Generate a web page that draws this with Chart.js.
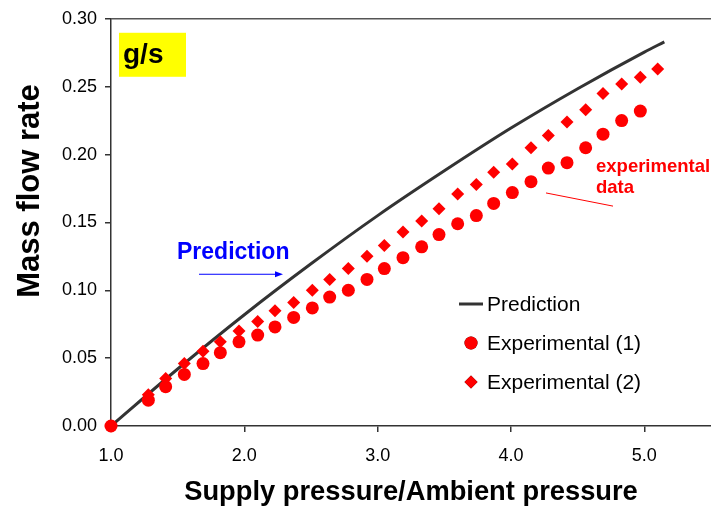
<!DOCTYPE html>
<html>
<head>
<meta charset="utf-8">
<title>Mass flow rate</title>
<script src="https://cdn.jsdelivr.net/npm/chart.js@4.4.1/dist/chart.umd.min.js"></script>
<style>
  body { margin: 0; background: #fff; }
  #wrap { width: 711px; height: 510px; }
</style>
</head>
<body>
<div id="wrap"><canvas id="flow-chart" width="711" height="510"></canvas></div>
<script>
// model curve
const predictionRatio = [1.0, 1.5, 2.0, 2.5, 3.0, 3.5, 4.0, 4.5, 5.0, 5.15];
const predictionFlow = [0, 0.042, 0.082, 0.1195, 0.155, 0.188, 0.2195, 0.2485, 0.2755, 0.283];

// measured runs (pressure ratio / g/s)
const exp1Ratio = [1.0, 1.28, 1.41, 1.55, 1.69, 1.82, 1.96, 2.10, 2.23, 2.37, 2.51, 2.64, 2.78, 2.92, 3.05,
    3.19, 3.33, 3.46, 3.60, 3.74, 3.87, 4.01, 4.15, 4.28, 4.42, 4.56, 4.69, 4.83, 4.97];
const exp1Flow = [0, 0.019, 0.029, 0.038, 0.046, 0.054, 0.062, 0.067, 0.073, 0.080, 0.087, 0.095, 0.100, 0.108, 0.116,
    0.124, 0.132, 0.141, 0.149, 0.155, 0.164, 0.172, 0.180, 0.190, 0.194, 0.205, 0.215, 0.225, 0.232];

const exp2Ratio = [1.0, 1.28, 1.41, 1.55, 1.69, 1.82, 1.96, 2.10, 2.23, 2.37, 2.51, 2.64, 2.78, 2.92, 3.05,
    3.19, 3.33, 3.46, 3.60, 3.74, 3.87, 4.01, 4.15, 4.28, 4.42, 4.56, 4.69, 4.83, 4.97, 5.10];
const exp2Flow = [0, 0.023, 0.035, 0.046, 0.055, 0.062, 0.070, 0.077, 0.085, 0.091, 0.100, 0.108, 0.116, 0.125, 0.133,
    0.143, 0.151, 0.160, 0.171, 0.178, 0.187, 0.193, 0.205, 0.214, 0.224, 0.233, 0.245, 0.252, 0.257, 0.263];

const xTicks = [1, 2, 3, 4, 5];
const yTicks = [0, 0.05, 0.10, 0.15, 0.20, 0.25, 0.30];

const toPoints = (xs, ys) => xs.map((v, i) => ({ x: v, y: ys[i] }));

const FONT = 'Arial, "Liberation Sans", Helvetica, sans-serif';
const RED = '#ff0000';
const LINE = '#333333';

// top frame, axis title, unit badge and callouts
const decorations = {
    id: 'decorations',
    afterDraw(chart) {
        const { ctx, chartArea, scales: { x, y } } = chart;
        ctx.save();

        ctx.strokeStyle = '#555';
        ctx.lineWidth = 1.5;
        ctx.beginPath();
        ctx.moveTo(chartArea.left, chartArea.top);
        ctx.lineTo(chartArea.right, chartArea.top);
        ctx.stroke();

        // vertical axis title
        ctx.save();
        ctx.translate(30, 191);
        ctx.rotate(-Math.PI / 2);
        ctx.fillStyle = '#000';
        ctx.font = 'bold 31px ' + FONT;
        ctx.textAlign = 'center';
        ctx.textBaseline = 'middle';
        ctx.fillText('Mass flow rate', 0, 0);
        ctx.restore();

        // unit badge
        const bx = x.getPixelForValue(1.06), by = y.getPixelForValue(0.2897);
        ctx.fillStyle = '#ffff00';
        ctx.fillRect(bx, by, 67, 44);
        ctx.fillStyle = '#000';
        ctx.font = 'bold 28px ' + FONT;
        ctx.textBaseline = 'alphabetic';
        ctx.fillText('g/s', bx + 4, by + 30);

        // prediction callout
        ctx.fillStyle = '#0000ff';
        ctx.font = 'bold 23px ' + FONT;
        ctx.fillText('Prediction', x.getPixelForValue(1.495), y.getPixelForValue(0.1228));
        const ax0 = x.getPixelForValue(1.66), ax1 = x.getPixelForValue(2.29), ay = y.getPixelForValue(0.1118);
        ctx.strokeStyle = '#0000ff';
        ctx.lineWidth = 1;
        ctx.beginPath();
        ctx.moveTo(ax0, ay);
        ctx.lineTo(ax1 - 6, ay);
        ctx.stroke();
        ctx.beginPath();
        ctx.moveTo(ax1, ay);
        ctx.lineTo(ax1 - 8, ay - 3);
        ctx.lineTo(ax1 - 8, ay + 3);
        ctx.closePath();
        ctx.fill();

        // experimental data callout
        ctx.fillStyle = RED;
        ctx.font = 'bold 18.5px ' + FONT;
        const tx = x.getPixelForValue(4.6375);
        ctx.fillText('experimental', tx, y.getPixelForValue(0.187));
        ctx.fillText('data', tx, y.getPixelForValue(0.1713));
        ctx.strokeStyle = RED;
        ctx.beginPath();
        ctx.moveTo(x.getPixelForValue(4.2625), y.getPixelForValue(0.1717));
        ctx.lineTo(x.getPixelForValue(4.765), y.getPixelForValue(0.162));
        ctx.stroke();

        ctx.restore();
    }
};

// legend box inside the plot
const plotLegend = {
    id: 'plotLegend',
    afterDraw(chart) {
        const { ctx } = chart;
        const rows = chart.data.datasets.slice().sort((a, b) => a.legendRank - b.legendRank);
        const mx = 471, tx = 487;
        ctx.save();
        ctx.font = '21px ' + FONT;
        ctx.textBaseline = 'middle';
        rows.forEach((ds, i) => {
            const ry = 304 + i * 39;
            if (ds.showLine) {
                ctx.strokeStyle = ds.borderColor;
                ctx.lineWidth = ds.borderWidth;
                ctx.beginPath();
                ctx.moveTo(mx - 12, ry);
                ctx.lineTo(mx + 12, ry);
                ctx.stroke();
            } else {
                Chart.helpers.drawPoint(ctx, {
                    pointStyle: ds.pointStyle,
                    radius: ds.pointRadius,
                    borderWidth: 0
                }, mx, ry);
                ctx.fillStyle = ds.pointBackgroundColor;
                ctx.fill();
            }
            ctx.fillStyle = '#000';
            ctx.fillText(ds.label, tx, ry + 1);
        });
        ctx.restore();
    }
};

document.addEventListener('DOMContentLoaded', () => {
    const ctx = document.getElementById('flow-chart').getContext('2d');

    new Chart(ctx, {
        type: 'scatter',
        data: {
            datasets: [
                {
                    label: 'Experimental (1)',
                    legendRank: 1,
                    data: toPoints(exp1Ratio, exp1Flow),
                    showLine: false,
                    pointStyle: 'circle',
                    pointRadius: 6.5,
                    pointBackgroundColor: RED,
                    pointBorderWidth: 0,
                    backgroundColor: RED,
                    borderColor: RED,
                    clip: false,
                    order: 0
                },
                {
                    label: 'Experimental (2)',
                    legendRank: 2,
                    data: toPoints(exp2Ratio, exp2Flow),
                    showLine: false,
                    pointStyle: 'rectRot',
                    pointRadius: 6.5,
                    pointBackgroundColor: RED,
                    pointBorderWidth: 0,
                    backgroundColor: RED,
                    borderColor: RED,
                    clip: false,
                    order: 1
                },
                {
                    label: 'Prediction',
                    legendRank: 0,
                    data: toPoints(predictionRatio, predictionFlow),
                    showLine: true,
                    borderColor: LINE,
                    borderWidth: 3,
                    pointRadius: 0,
                    cubicInterpolationMode: 'monotone',
                    clip: false,
                    order: 2
                }
            ]
        },
        options: {
            responsive: false,
            animation: false,
            layout: { autoPadding: false, padding: { top: 18, right: 0, bottom: 0, left: 0 } },
            plugins: {
                legend: { display: false },
                tooltip: { enabled: false }
            },
            scales: {
                x: {
                    type: 'linear',
                    min: 1,
                    max: 5.5,
                    afterFit: scale => {
                        scale.height = 84;
                        // let the axis run to the canvas edge
                        scale.paddingLeft = 0;
                        scale.paddingRight = 0;
                    },
                    afterBuildTicks: scale => { scale.ticks = xTicks.map(v => ({ value: v })); },
                    ticks: {
                        color: '#000',
                        font: { family: FONT, size: 18 },
                        padding: 13,
                        callback: v => v.toFixed(1)
                    },
                    grid: { display: true, drawOnChartArea: false, drawTicks: true, tickLength: 6, color: '#333', lineWidth: 1.5 },
                    border: { display: true, color: '#333', width: 1.5 },
                    title: {
                        display: true,
                        text: 'Supply pressure/Ambient pressure',
                        color: '#000',
                        font: { family: FONT, size: 27.3, weight: 'bold' },
                        padding: { top: 0, bottom: 1 }
                    }
                },
                y: {
                    type: 'linear',
                    min: 0,
                    max: 0.3,
                    afterFit: scale => { scale.width = 111; },
                    afterBuildTicks: scale => { scale.ticks = yTicks.map(v => ({ value: v })); },
                    ticks: {
                        color: '#000',
                        font: { family: FONT, size: 18 },
                        padding: 8,
                        callback: v => v.toFixed(2)
                    },
                    grid: { display: true, drawOnChartArea: false, drawTicks: true, tickLength: 6, color: '#333', lineWidth: 1.5 },
                    border: { display: true, color: '#333', width: 1.5 }
                }
            }
        },
        plugins: [decorations, plotLegend]
    });
});
</script>
</body>
</html>
